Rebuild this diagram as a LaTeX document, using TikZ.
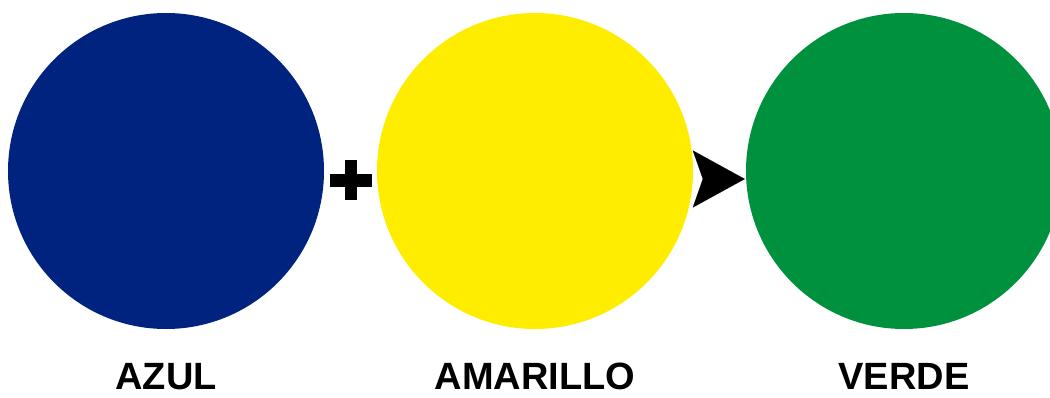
\documentclass[tikz,border=0pt]{standalone}
\usepackage{fontspec}
\setmainfont{Liberation Sans}
\usepackage{xcolor}
\usepackage{tikz}
\usetikzlibrary{positioning, calc, arrows.meta}
\definecolor{azulc}{RGB}{0,35,128}
\definecolor{amarilloc}{RGB}{255,237,0}
\definecolor{verdec}{RGB}{0,145,62}

\begin{document}
\begin{tikzpicture}[
  x=1pt, y=-1pt,
  mezcla/.style={circle, inner sep=0pt, minimum size=316pt},
  rotulo/.style={anchor=base, font=\fontsize{38}{38}\selectfont\bfseries},
]
  \useasboundingbox (0,0) rectangle (1050,397);
  \clip (0,0) rectangle (1050,397);
  \fill[white] (0,0) rectangle (1050,397);

  % Three colour discs
  \node[mezcla, fill=azulc] (azul) at (166,171) {};
  \node[mezcla, fill=amarilloc] (amarillo) at (535,171) {};
  \node[mezcla, fill=verdec] (verde) at (904,171) {};

  % Names under the discs
  \node[rotulo] (azulT) at (166,389) {AZUL};
  \node[rotulo] (amarilloT) at (535,389) {AMARILLO};
  \node[rotulo] (verdeT) at (904,389) {VERDE};

  % Plus sign between blue and yellow
  \coordinate (mas) at ($(azul.east)!0.5!(amarillo.west)+(0,9)$);
  \fill ($(mas)+(-21,-6.5)$) rectangle ($(mas)+(21,6.5)$);
  \fill ($(mas)+(-6,-20)$) rectangle ($(mas)+(6,20)$);

  % Arrow head between yellow and green
  \coordinate (da) at ($(amarillo.east)+(12,8)$);
  \coordinate (db) at ($(verde.west)+(-1,8)$);
  \draw[line width=0.1pt, -{Stealth[length=52pt, width=57pt, inset=10pt]}] (da) -- (db);
\end{tikzpicture}
\end{document}
